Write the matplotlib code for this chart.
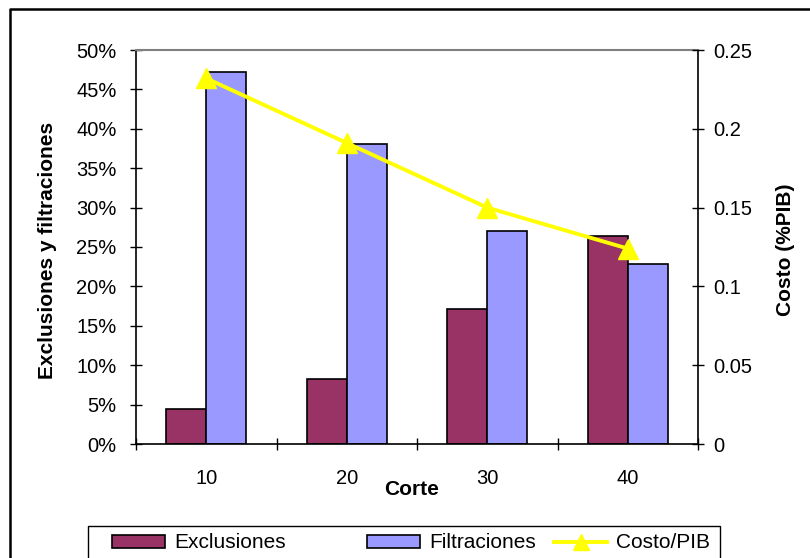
import numpy as np
import matplotlib
matplotlib.use("Agg")
import matplotlib.pyplot as plt
from matplotlib.lines import Line2D
from matplotlib.patches import Rectangle, Patch

plt.rcParams['font.family'] = ['Liberation Sans', 'DejaVu Sans']

cortes = ["10", "20", "30", "40"]
exclusiones = [4.4, 8.2, 17.1, 26.4]      # %
filtraciones = [47.2, 38.1, 27.0, 22.9]   # %
costo_pib = [0.232, 0.191, 0.150, 0.124]

col_excl = "#993366"
col_filt = "#9999FF"
col_line = "#FFFF00"

W, H = 810, 558
fig = plt.figure(figsize=(W/100, H/100), dpi=100)
ax = fig.add_axes([136/W, 1 - 444/H, 562/W, 394/H])

x = np.arange(len(cortes))
w = 0.286
ax.bar(x - w/2, exclusiones, w, color=col_excl, edgecolor="black", linewidth=1.2, zorder=2)
ax.bar(x + w/2, filtraciones, w, color=col_filt, edgecolor="black", linewidth=1.2, zorder=2)

ax.set_xlim(-0.5, len(cortes) - 0.5)
ax.set_ylim(0, 50)
ax.set_yticks(np.arange(0, 51, 5))
ax.set_yticklabels([f"{v}%" for v in range(0, 51, 5)])
ax.set_xticks(np.arange(-0.5, len(cortes), 1))
ax.set_xticklabels([])
ax.set_xticks(x, minor=True)
ax.set_xticklabels(cortes, minor=True)
ax.tick_params(axis="x", which="major", direction="inout", length=8, width=1)
ax.tick_params(axis="x", which="minor", length=0, pad=18, labelsize=14.5)
ax.tick_params(axis="y", direction="inout", length=8, width=1, pad=10, labelsize=14.5)

ax.spines["top"].set_color("#808080")
ax.spines["top"].set_linewidth(1.5)
for s in ["left", "bottom", "right"]:
    ax.spines[s].set_linewidth(1.2)

ymid = 1 - 250/H
ax.set_ylabel("Exclusiones y filtraciones", fontsize=15, fontweight="bold")
ax.yaxis.set_label_coords(57/W, ymid, transform=fig.transFigure)
ax.set_xlabel("Corte", fontsize=15, fontweight="bold")
ax.xaxis.set_label_coords(412/W, 1 - 480/H, transform=fig.transFigure)

ax2 = ax.twinx()
ax2.plot(x, costo_pib, color=col_line, linewidth=2.8, marker="^", markersize=14,
         markeredgecolor=col_line, zorder=3)
ax2.set_ylim(0, 0.25)
ax2.set_yticks([0, 0.05, 0.1, 0.15, 0.2, 0.25])
ax2.set_yticklabels(["0", "0.05", "0.1", "0.15", "0.2", "0.25"])
ax2.tick_params(axis="y", direction="inout", length=8, width=1, pad=7, labelsize=14.5)
for s in ["left", "bottom", "right", "top"]:
    ax2.spines[s].set_visible(False)
ax2.set_ylabel("Costo (%PIB)", fontsize=15, fontweight="bold")
ax2.yaxis.set_label_coords(776/W, ymid, transform=fig.transFigure)

# marco exterior del grafico
y_top = 1 - 9/H
fig.add_artist(Line2D([10/W, 10/W, 1.05], [-0.05, y_top, y_top],
                      transform=fig.transFigure, color="black", linewidth=1.8))

# leyenda (estilo Excel, entradas con separacion desigual)
fig.add_artist(Rectangle((88/W, -0.05), (720 - 88)/W, 1 - 526/H + 0.05,
                         transform=fig.transFigure, fill=False, edgecolor="black", linewidth=1.0))
entradas = [
    (Patch(facecolor=col_excl, edgecolor="black", linewidth=1.2), "Exclusiones", 112),
    (Patch(facecolor=col_filt, edgecolor="black", linewidth=1.2), "Filtraciones", 367),
    (Line2D([], [], color=col_line, linewidth=2.8, marker="^", markersize=11,
            markeredgecolor=col_line), "Costo/PIB", 554),
]
for handle, texto, x0 in entradas:
    fig.legend([handle], [texto], loc="center left", bbox_to_anchor=(x0/W, 1 - 543/H),
               frameon=False, fontsize=15, handlelength=2.55, handleheight=0.6,
               handletextpad=0.42, borderpad=0, borderaxespad=0)

fig.savefig("out.png", dpi=100)
